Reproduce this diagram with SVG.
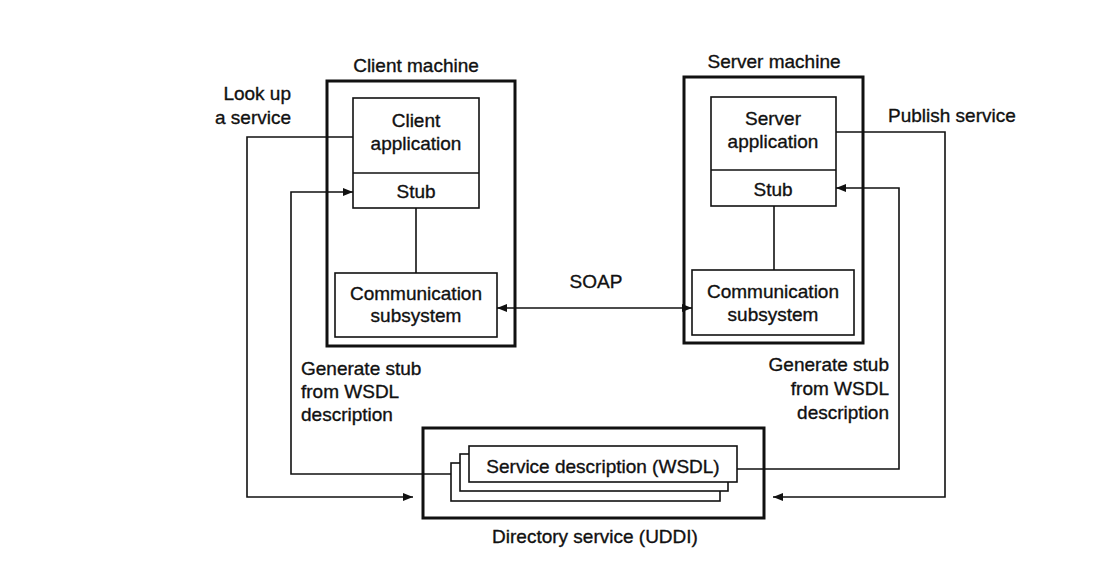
<svg xmlns="http://www.w3.org/2000/svg" width="1114" height="579" viewBox="0 0 1114 579">
<style>
text{font-family:"Liberation Sans",Arial,sans-serif;font-size:19px;fill:#111;stroke:#111;stroke-width:0.35}
.c{text-anchor:middle}
.r{text-anchor:end}
.outer{fill:none;stroke:#111;stroke-width:3}
.box{fill:#fff;stroke:#111;stroke-width:1.6}
.ln{fill:none;stroke:#111;stroke-width:1.6}
</style>
<defs>
<marker id="ah" viewBox="0 0 10 8" refX="10" refY="4" markerWidth="10" markerHeight="8" markerUnits="userSpaceOnUse" orient="auto-start-reverse">
<path d="M0,0 L10,4 L0,8 Z" fill="#111"/>
</marker>
</defs>
<rect width="1114" height="579" fill="#fff"/>

<g id="client-machine">
<rect class="outer" x="327" y="81" width="188" height="265"/>
<text class="c" x="416" y="72">Client machine</text>
</g>
<g id="client-app">
<rect class="box" x="353" y="98" width="126" height="110"/>
<line class="ln" x1="353" y1="173" x2="479" y2="173"/>
<text class="c" x="416" y="127">Client</text>
<text class="c" x="416" y="150">application</text>
</g>
<g id="client-stub">
<text class="c" x="416" y="198">Stub</text>
</g>
<g id="client-comm">
<rect class="box" x="335" y="273" width="162" height="64"/>
<text class="c" x="416" y="300">Communication</text>
<text class="c" x="416" y="322">subsystem</text>
</g>

<g id="server-machine">
<rect class="outer" x="684" y="77" width="179" height="266"/>
<text class="c" x="774" y="68">Server machine</text>
</g>
<g id="server-app">
<rect class="box" x="711" y="97" width="125" height="109"/>
<line class="ln" x1="711" y1="170" x2="836" y2="170"/>
<text class="c" x="773" y="125">Server</text>
<text class="c" x="773" y="148">application</text>
</g>
<g id="server-stub">
<text class="c" x="773" y="196">Stub</text>
</g>
<g id="server-comm">
<rect class="box" x="692" y="270" width="162" height="65"/>
<text class="c" x="773" y="298">Communication</text>
<text class="c" x="773" y="321">subsystem</text>
</g>

<g id="directory">
<rect class="outer" x="423" y="428" width="341" height="90"/>
<rect class="box" x="451" y="463" width="269" height="38"/>
<rect class="box" x="460" y="454" width="268" height="37"/>
<rect class="box" x="469" y="446" width="268" height="36"/>
<text class="c" x="603" y="473">Service description (WSDL)</text>
<text class="c" x="595" y="543">Directory service (UDDI)</text>
</g>

<g id="labels">
<text class="r" x="291" y="100">Look up</text>
<text class="r" x="291" y="124">a service</text>
<text class="c" x="596" y="288">SOAP</text>
<text x="888" y="122">Publish service</text>
<text x="301" y="375">Generate stub</text>
<text x="301" y="398">from WSDL</text>
<text x="301" y="421">description</text>
<text class="r" x="889" y="371">Generate stub</text>
<text class="r" x="889" y="395">from WSDL</text>
<text class="r" x="889" y="419">description</text>
</g>

<g id="connectors">
<line class="ln" x1="416" y1="208" x2="416" y2="273"/>
<line class="ln" x1="774" y1="206" x2="774" y2="270"/>
<line class="ln" x1="497" y1="308" x2="692" y2="308" marker-start="url(#ah)" marker-end="url(#ah)"/>
<polyline class="ln" points="353,137 247,137 247,497 413,497" marker-end="url(#ah)"/>
<polyline class="ln" points="451,474 291,474 291,192 353,192" marker-end="url(#ah)"/>
<polyline class="ln" points="836,132 945,132 945,497 773,497" marker-end="url(#ah)"/>
<polyline class="ln" points="737,469 899,469 899,188 836,188" marker-end="url(#ah)"/>
</g>
</svg>
